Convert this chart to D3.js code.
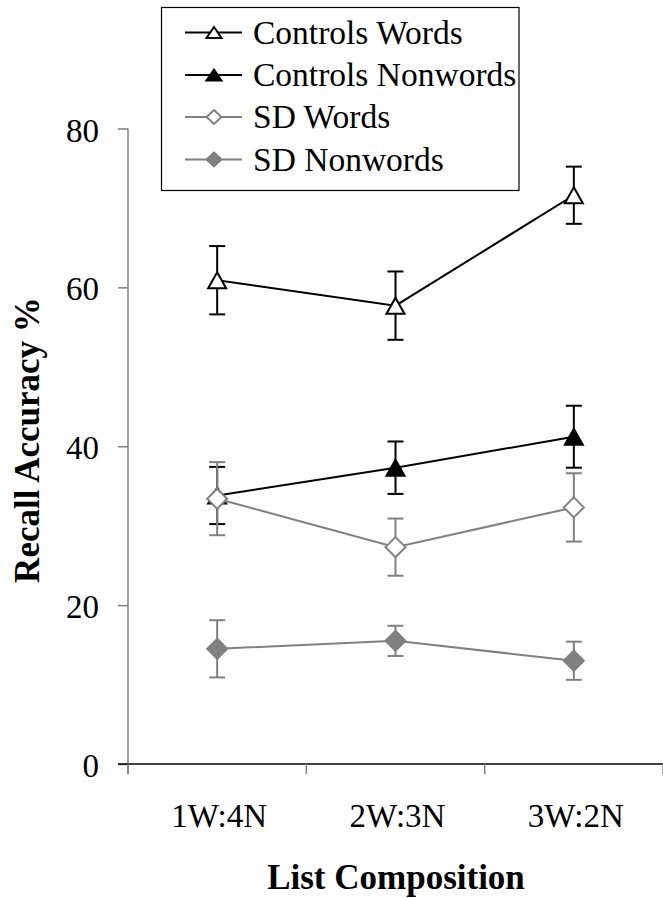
<!DOCTYPE html>
<html>
<head>
<meta charset="utf-8">
<script src="https://cdn.jsdelivr.net/npm/d3@7"></script>
<style>
  html, body { margin: 0; padding: 0; background: #fff; }
  svg { display: block; }
</style>
</head>
<body>
<svg id="chart" width="663" height="899"></svg>
<script>
// ---- data ----
const categories = ["1W:4N", "2W:3N", "3W:2N"];
const seriesNames = ["Controls Words", "Controls Nonwords", "SD Words", "SD Nonwords"];
const controlsWords = [60.9, 57.7, 71.6];
const controlsWordsErr = [4.3, 4.3, 3.6];
const controlsNonwords = [33.8, 37.3, 41.2];
const controlsNonwordsErr = [3.6, 3.3, 3.9];
const sdWords = [33.4, 27.3, 32.3];
const sdWordsErr = [4.6, 3.6, 4.3];
const sdNonwords = [14.5, 15.5, 13.0];
const sdNonwordsErr = [3.6, 1.9, 2.4];
const yTicks = [0, 20, 40, 60, 80];

const FONT = "\"Liberation Serif\"";

const series = [
  { name: seriesNames[0], values: controlsWords, errs: controlsWordsErr, color: "#000000", shape: "triangle", fill: "#ffffff" },
  { name: seriesNames[1], values: controlsNonwords, errs: controlsNonwordsErr, color: "#000000", shape: "triangle", fill: "#000000" },
  { name: seriesNames[2], values: sdWords, errs: sdWordsErr, color: "#808080", shape: "diamond", fill: "#ffffff" },
  { name: seriesNames[3], values: sdNonwords, errs: sdNonwordsErr, color: "#808080", shape: "diamond", fill: "#808080" }
];

const svg = d3.select("#chart");
const x = d3.scaleBand().domain(categories).range([128, 663]).paddingInner(0).paddingOuter(0);
const y = d3.scaleLinear().domain([0, 80]).range([764, 128.5]);
const cx = c => x(c) + x.bandwidth() / 2;

// axes
const yAxis = svg.append("g").attr("transform", "translate(128,0)")
  .call(d3.axisLeft(y).tickValues(yTicks).tickSize(10).tickPadding(19).tickFormat(d3.format("d")));
yAxis.attr("font-family", FONT);
yAxis.select(".domain").attr("stroke", "#808080").attr("stroke-width", 1.5).attr("d", `M0,${y(80)}V${y(0)+10}`);
yAxis.selectAll(".tick line").attr("stroke", "#808080").attr("stroke-width", 1.5);
yAxis.selectAll(".tick text").attr("font-size", 33).attr("fill", "#000").attr("dy", "0.38em")
  .attr("font-family", FONT);

const xAxis = svg.append("g").attr("transform", `translate(0,${y(0)})`);
xAxis.append("line").attr("x1", 118).attr("x2", 663).attr("y1", 0).attr("y2", 0)
  .attr("stroke", "#000").attr("stroke-width", 1.5);
const bounds = categories.map(c => x(c)).concat([x.range()[1]]);
xAxis.selectAll("line.tk").data(bounds).join("line").attr("class", "tk")
  .attr("x1", d => d).attr("x2", d => d).attr("y1", 0).attr("y2", 10)
  .attr("stroke", "#808080").attr("stroke-width", 1.5);
xAxis.selectAll("text.lbl").data(categories).join("text").attr("class", "lbl")
  .attr("x", d => cx(d) + 2).attr("y", 63).attr("text-anchor", "middle")
  .attr("font-size", 33).attr("font-family", FONT).text(d => d);

// axis titles
svg.append("text").attr("x", 396).attr("y", 889).attr("text-anchor", "middle")
  .attr("font-size", 35).attr("font-weight", "bold").attr("font-family", FONT).text("List Composition");
svg.append("text").attr("transform", "translate(39,440) rotate(-90)").attr("text-anchor", "middle")
  .attr("font-size", 35).attr("font-weight", "bold").attr("font-family", FONT).text("Recall Accuracy %");

// markers
function markerPath(shape, w, h) {
  if (shape === "triangle") {
    return `M0,${-h/2}L${w/2},${h/2}L${-w/2},${h/2}Z`;
  }
  return `M0,${-h/2}L${w/2},0L0,${h/2}L${-w/2},0Z`;
}

const line = d3.line().x((d, i) => cx(categories[i])).y(d => y(d));

series.forEach(s => {
  const g = svg.append("g");
  s.values.forEach((v, i) => {
    const px = cx(categories[i]);
    const e = s.errs[i];
    g.append("line").attr("x1", px).attr("x2", px).attr("y1", y(v + e)).attr("y2", y(v - e))
      .attr("stroke", s.color).attr("stroke-width", 2);
    [v + e, v - e].forEach(t => {
      g.append("line").attr("x1", px - 8).attr("x2", px + 8).attr("y1", y(t)).attr("y2", y(t))
        .attr("stroke", s.color).attr("stroke-width", 2);
    });
  });
  g.append("path").datum(s.values).attr("d", line).attr("fill", "none")
    .attr("stroke", s.color).attr("stroke-width", 2);
  s.values.forEach((v, i) => {
    const px = cx(categories[i]);
    const w = s.shape === "triangle" ? 18 : 20;
    const h = s.shape === "triangle" ? 16 : 20;
    g.append("path").attr("d", markerPath(s.shape, w, h))
      .attr("transform", `translate(${px},${y(v)})`)
      .attr("fill", s.fill).attr("stroke", s.color).attr("stroke-width", 2).attr("stroke-linejoin", "miter");
  });
});

// legend
const leg = svg.append("g");
leg.append("rect").attr("x", 161.5).attr("y", 7.5).attr("width", 357.5).attr("height", 183)
  .attr("fill", "#fff").attr("stroke", "#000").attr("stroke-width", 1.2);
const rowY = [32.5, 75, 117, 159.5];
series.forEach((s, i) => {
  const ry = rowY[i];
  leg.append("line").attr("x1", 185).attr("x2", 242).attr("y1", ry).attr("y2", ry)
    .attr("stroke", s.color).attr("stroke-width", 2);
  const w = 15, h = s.shape === "triangle" ? 11 : 14;
  leg.append("path").attr("d", markerPath(s.shape, w, h))
    .attr("transform", `translate(214,${ry})`)
    .attr("fill", s.fill).attr("stroke", s.color).attr("stroke-width", 2);
  leg.append("text").attr("x", 253).attr("y", ry + 11).attr("font-size", 33.5)
    .attr("font-family", FONT).text(s.name);
});
</script>
</body>
</html>
